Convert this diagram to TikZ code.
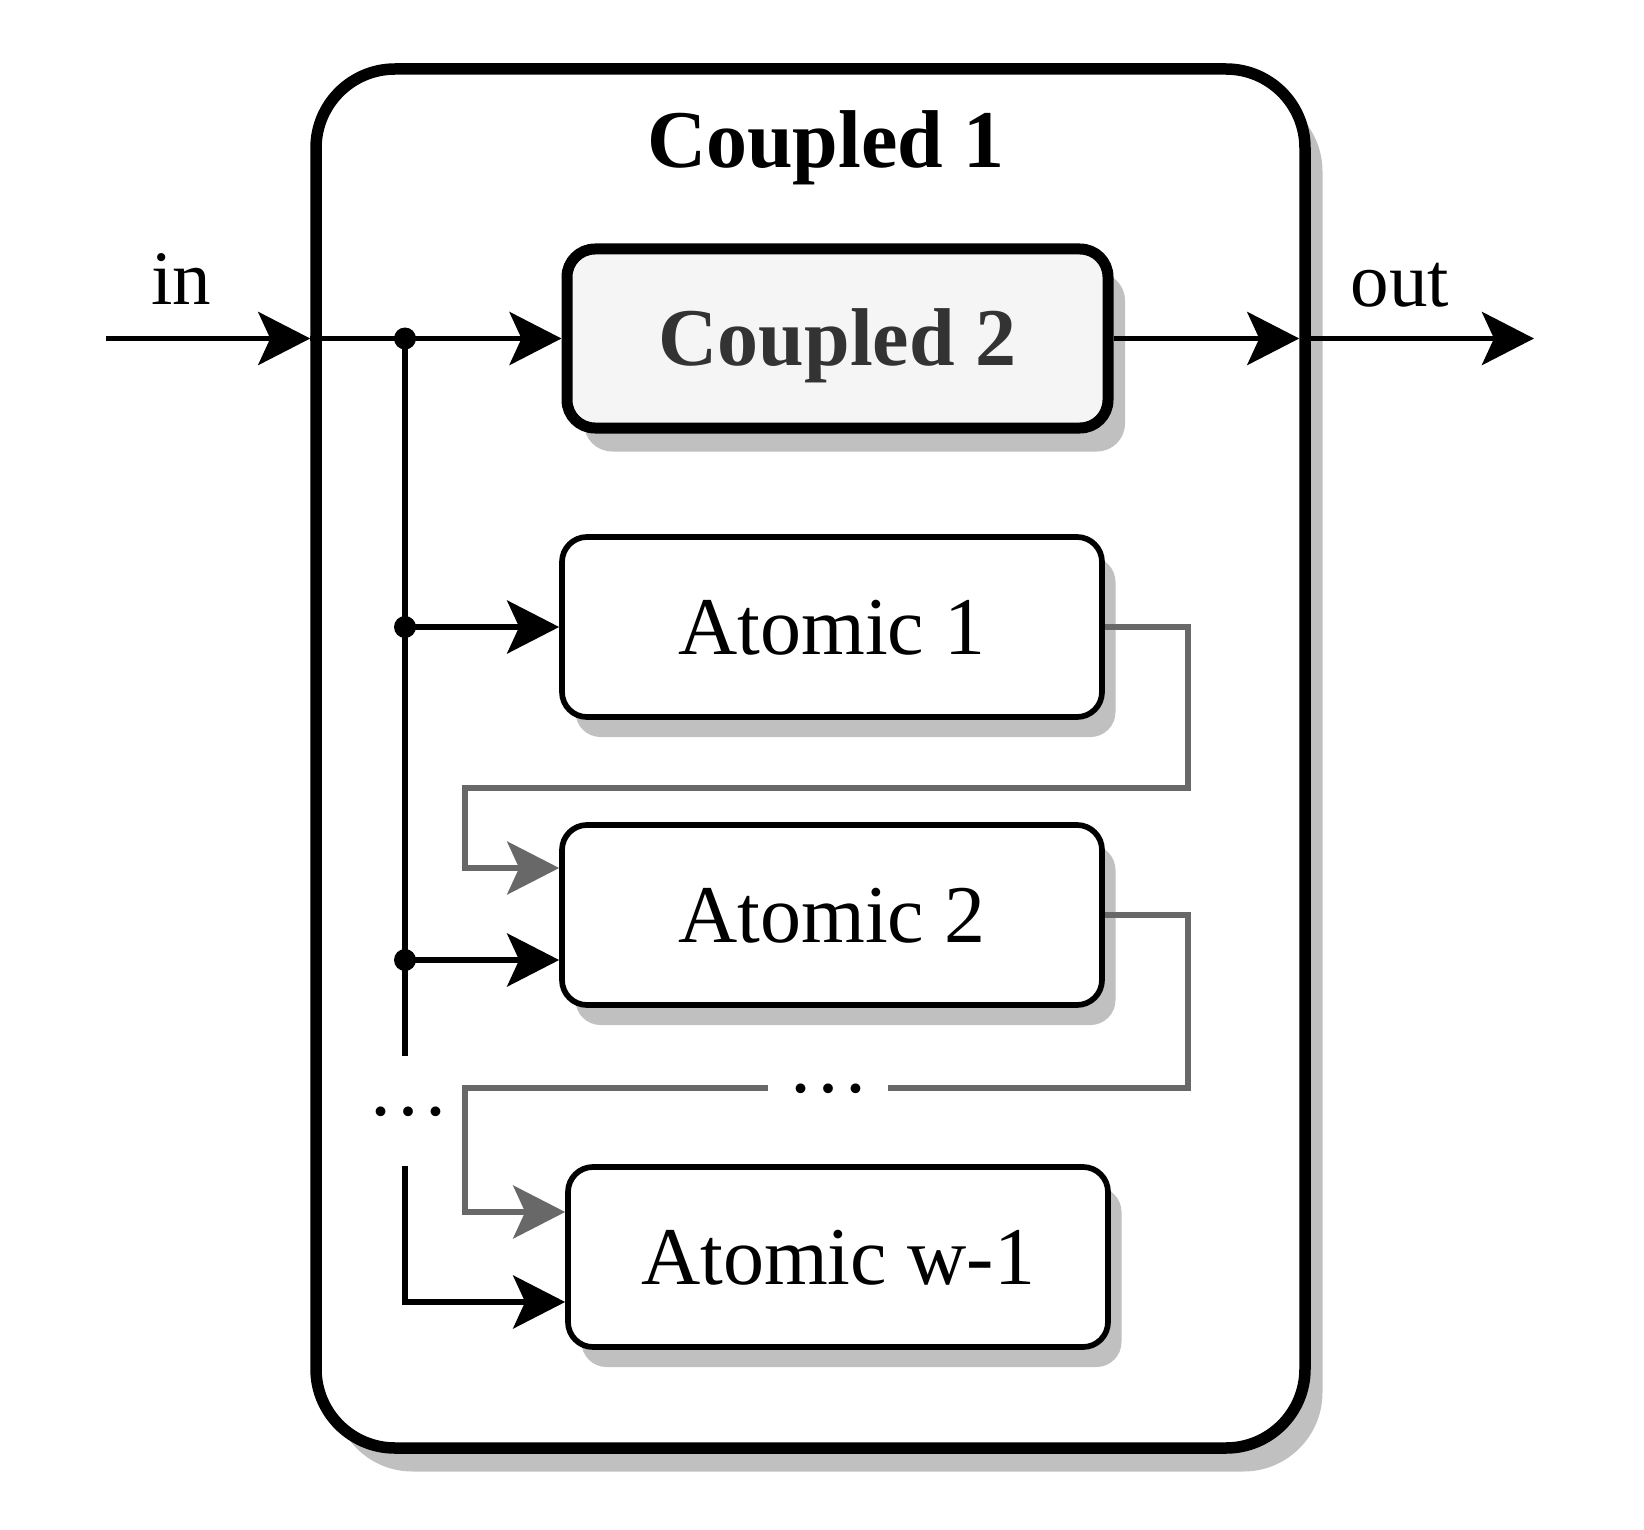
\documentclass[tikz,border=0pt]{standalone}
\usepackage{fontspec}
\setmainfont{Liberation Serif}
\usetikzlibrary{arrows.meta,shadows}
\definecolor{shade}{RGB}{192,192,192}
\definecolor{wire}{RGB}{104,104,104}
\definecolor{cfill}{RGB}{245,245,245}
\definecolor{ctext}{RGB}{51,51,51}
\begin{document}
\begin{tikzpicture}[x=1pt,y=-1pt,
  tip/.style={-{Stealth[length=52pt,width=53pt,inset=12pt]}},
  wireblack/.style={line width=5.7pt,draw=black},
  wiregrey/.style={line width=5.3pt,draw=wire},
  bigfont/.style={font=\fontsize{82}{96}\selectfont},
  boldfont/.style={font=\fontsize{82}{96}\selectfont\bfseries},
  portfont/.style={font=\fontsize{77}{90}\selectfont},
  atombox/.style={draw=black,fill=white,line width=5.7pt,rounded corners=25pt,
    minimum width=540pt,minimum height=180pt,inner sep=0pt,
    text height=54pt,text depth=0pt,bigfont,
    drop shadow={shadow xshift=13.5pt,shadow yshift=-20pt,fill=shade,opacity=1}},
  coupledbox/.style={draw=black,fill=cfill,line width=11pt,rounded corners=28pt,
    minimum width=541pt,minimum height=179pt,inner sep=0pt,
    text height=54pt,text depth=0pt,boldfont,text=ctext,
    drop shadow={shadow xshift=17pt,shadow yshift=-23.5pt,fill=shade,opacity=1}},
  outerbox/.style={draw=black,fill=white,line width=11.5pt,rounded corners=79pt,
    minimum width=989pt,minimum height=1379pt,inner sep=0pt,
    drop shadow={shadow xshift=17.5pt,shadow yshift=-23.5pt,fill=shade,opacity=1}},
  dotslabel/.style={inner sep=0pt,text height=8pt,text depth=0pt,bigfont},
  junction/.style={fill=black}
]
\useasboundingbox (0,0) rectangle (1644,1530);

% outer coupled model
\node[outerbox] (c1) at (810.5,758.5) {};
\node[boldfont,anchor=base] (t1) at (826,168) {Coupled 1};

% inner models
\node[coupledbox] (c2) at (837.5,338.5) {Coupled 2};
\node[atombox] (a1) at (832,627) {Atomic 1};
\node[atombox] (a2) at (832,915) {Atomic 2};
\node[atombox] (aw) at (838,1257) {Atomic w-1};

% port labels
\node[portfont,anchor=base] (lin) at (181,305) {in};
\node[portfont,anchor=base] (lout) at (1400,307) {out};

% ellipsis labels
\node[dotslabel,minimum height=109pt] (dl) at (408,1111) {…};
\node[dotslabel,fill=white,minimum width=120pt] (dm) at (828,1088) {…};

% coordinates
\coordinate (src) at (106,338.5);
\coordinate (sink) at (1534,338.5);
\coordinate (j0) at (405,338.5);
\coordinate (j1) at (j0 |- a1.west);
\coordinate (a2in) at ([yshift=-45pt]a2.west);
\coordinate (j2) at (j0 |- a2in);
\coordinate (awin) at ([yshift=-45pt]aw.west);

% input and output
\draw[wireblack,tip] (src) -- (c1.west |- src);
\draw[wireblack,tip] (c1.west |- src) -- (c2.west);
\draw[wireblack,tip,shorten >=11.5pt] (c2.east) -- (c1.east |- c2.east);
\draw[wireblack,tip] (c1.east |- c2.east) -- (sink);

% input bus
\draw[wireblack] (j0) -- (j0 |- dl.north);
\draw[wireblack,tip] (j1) -- (a1.west);
\draw[wireblack,tip] (j2) -- (a2in);
\draw[wireblack,tip] (j0 |- dl.south) |- (awin);
\fill[junction] (j0) circle (11pt);
\fill[junction] (j1) circle (11pt);
\fill[junction] (j2) circle (11pt);

% chain between atomic models
\draw[wiregrey,tip] (a1.east) -- ++(83,0) |- (465,788) |- ([yshift=47pt]a2.west);
\draw[wiregrey] (a2.east) -- ++(83,0) |- (dm.east);
\draw[wiregrey,tip] (dm.west) -- (465,1088) |- ([yshift=45pt]aw.west);
\end{tikzpicture}
\end{document}
